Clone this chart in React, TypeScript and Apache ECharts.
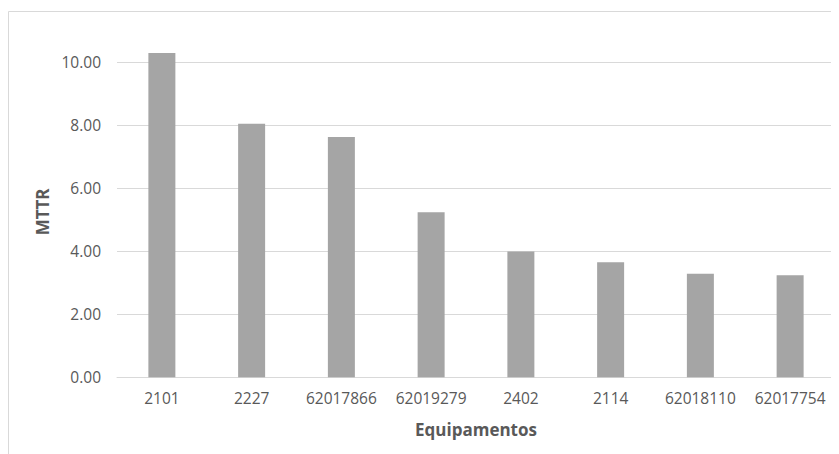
import React, { useEffect, useRef } from "react";
import * as echarts from "echarts";

const categories = ["2101", "2227", "62017866", "62019279", "2402", "2114", "62018110", "62017754"];
const mttrValues = [10.29, 8.05, 7.63, 5.24, 3.99, 3.65, 3.29, 3.24];
const yTicks = [0, 2, 4, 6, 8, 10];

export default function App() {
  const ref = useRef<HTMLDivElement>(null);
  useEffect(() => {
    if (!ref.current) return;
    const chart = echarts.init(ref.current, null, { renderer: "svg" });
    const font = "'Open Sans', sans-serif";
    chart.setOption({
      animation: false,
      backgroundColor: "#ffffff",
      graphic: [
        {
          type: "rect",
          shape: { x: 0.5, y: 3.5, width: 900, height: 600 },
          style: { fill: "none", stroke: "#d9d9d9", lineWidth: 1 },
          silent: true,
        },
      ],
      grid: { left: 109, right: 4, top: 38.5, bottom: 76.7, containLabel: false },
      xAxis: {
        type: "category",
        data: categories,
        name: "Equipamentos",
        nameLocation: "middle",
        nameGap: 44,
        nameTextStyle: { color: "#595959", fontFamily: font, fontSize: 17, fontWeight: "bold" },
        axisLine: { show: true, lineStyle: { color: "#d9d9d9", width: 1 } },
        axisTick: { show: false },
        axisLabel: { color: "#595959", fontFamily: font, fontSize: 15.5, margin: 13, interval: 0 },
      },
      yAxis: {
        type: "value",
        min: 0,
        max: 10.5,
        interval: 2,
        name: "MTTR",
        nameLocation: "middle",
        nameRotate: 90,
        nameGap: 65,
        nameTextStyle: { color: "#595959", fontFamily: font, fontSize: 17, fontWeight: "bold" },
        axisLine: { show: false },
        axisTick: { show: false },
        axisLabel: {
          color: "#595959",
          fontFamily: font,
          fontSize: 15.5,
          margin: 16,
          showMaxLabel: false,
          formatter: (v: number) => (yTicks.includes(v) ? v.toFixed(2) : ""),
        },
        splitLine: { show: true, showMaxLine: false, lineStyle: { color: "#d9d9d9", width: 1 } },
      },
      series: [
        {
          type: "bar",
          data: mttrValues,
          barWidth: 27,
          itemStyle: { color: "#a5a5a5" },
        },
      ],
    });
    return () => chart.dispose();
  }, []);
  return <div ref={ref} style={{ width: 831, height: 446 }} />;
}
